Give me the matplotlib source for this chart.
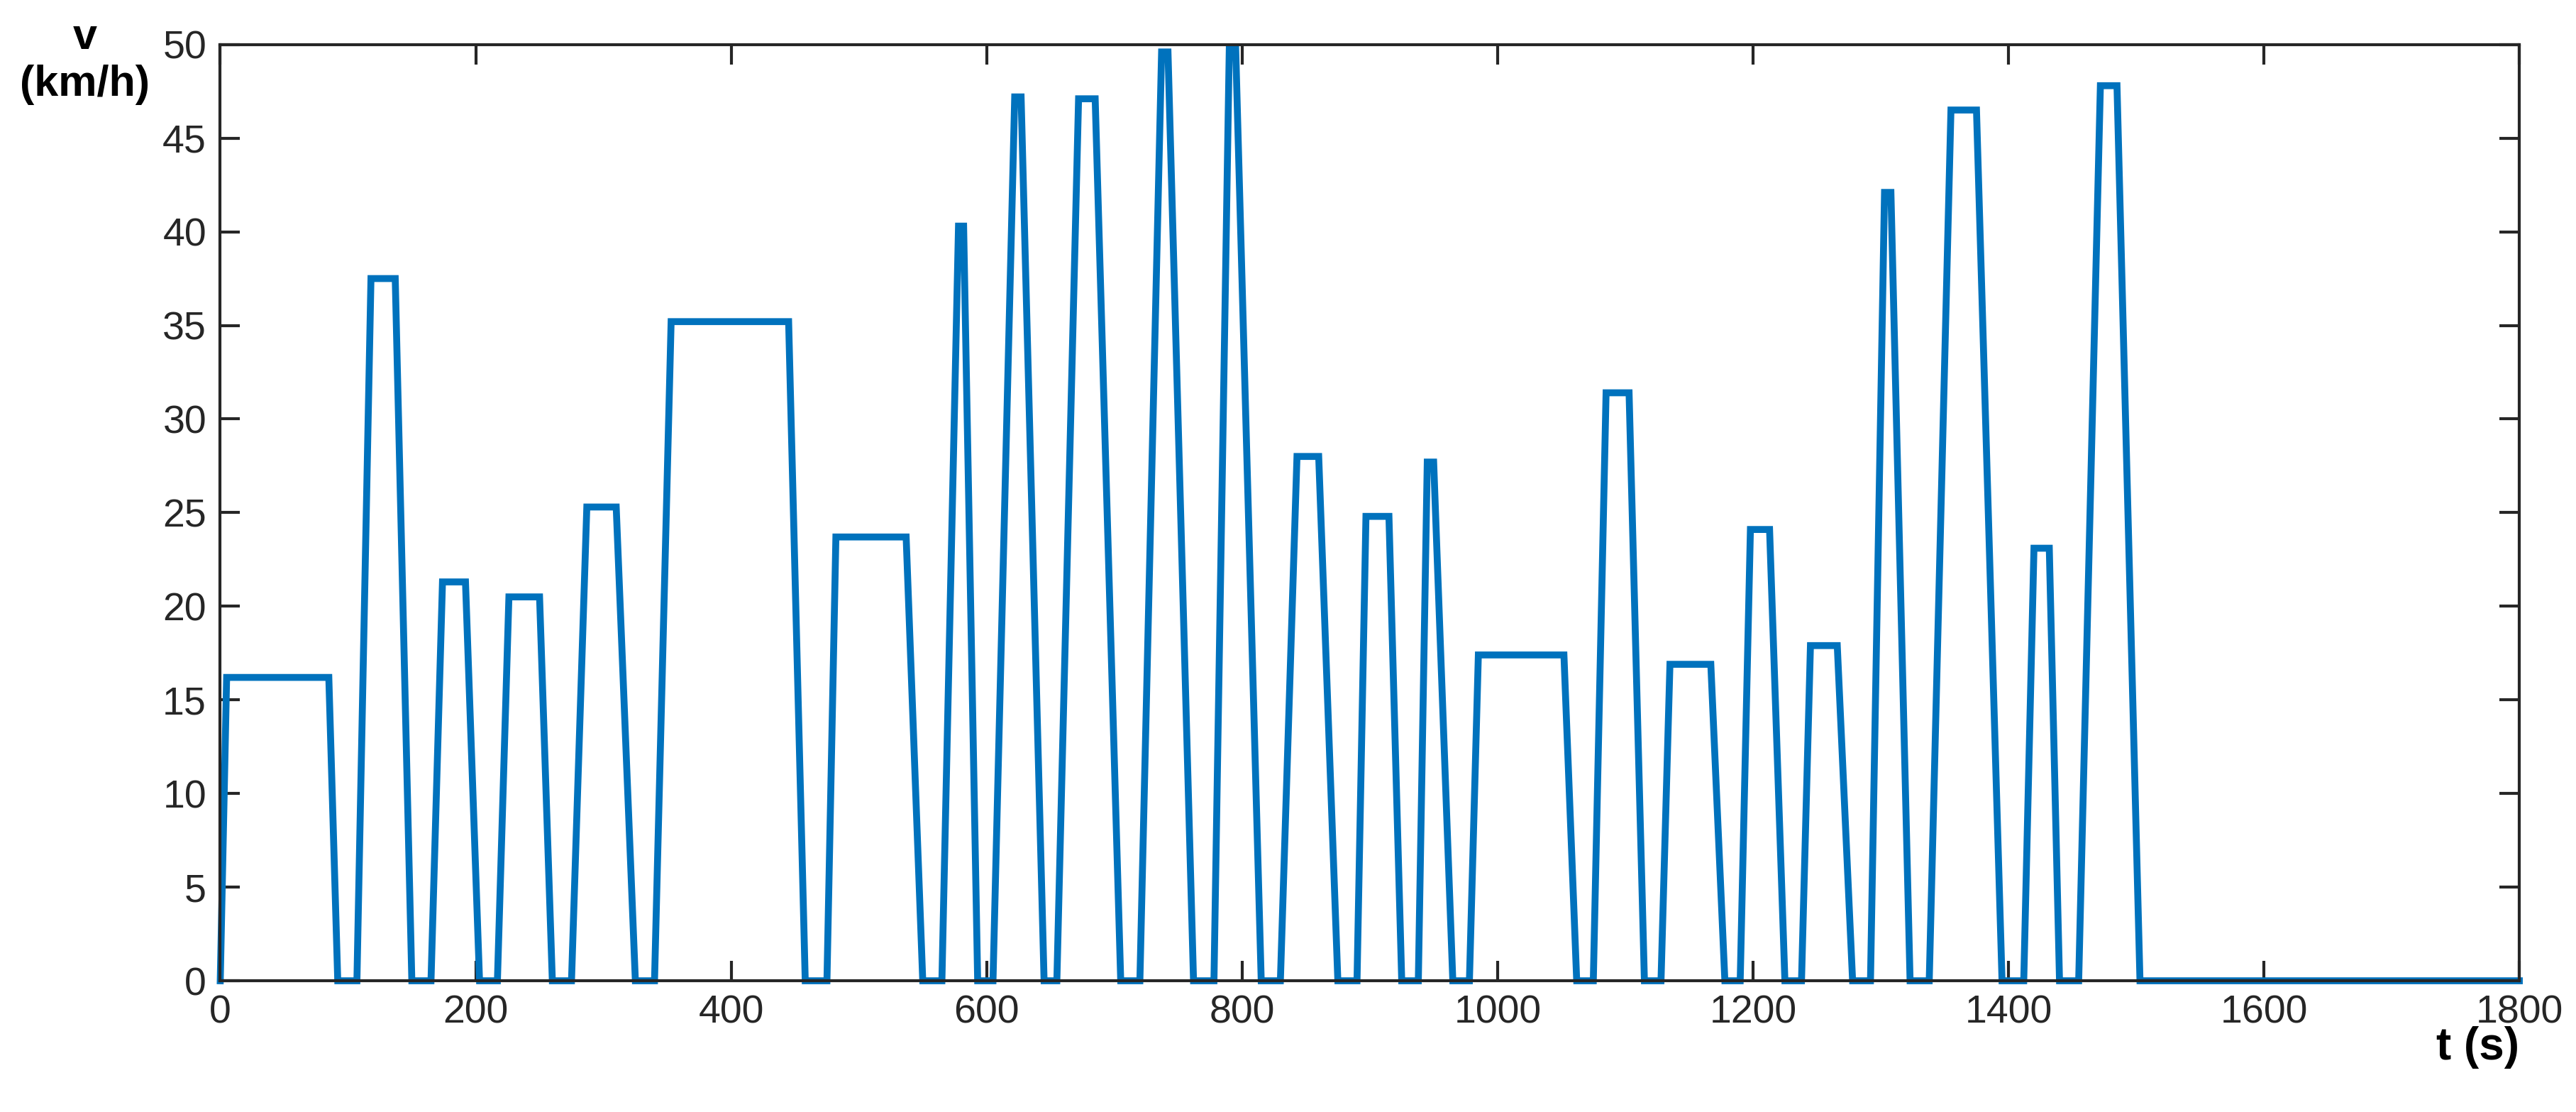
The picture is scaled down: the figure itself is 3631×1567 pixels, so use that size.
import matplotlib
matplotlib.use("Agg")
import matplotlib.pyplot as plt

plt.rcParams["font.family"] = ["Liberation Sans", "DejaVu Sans"]

# speed profile vertices
t_s = [0, 5, 85, 92, 107, 118, 137, 150, 165, 174, 192, 203, 217, 226, 250, 260,
       275, 287, 310, 325, 340, 353, 445, 458, 475, 482, 537, 550, 565, 578, 582, 593,
       605, 622, 627, 645, 655, 672, 685, 705, 720, 737, 742, 762, 778, 790, 795, 815,
       830, 843, 860, 875, 890, 897, 915, 925, 938, 945, 950, 965, 978, 985, 1052, 1062,
       1075, 1085, 1103, 1115, 1128, 1135, 1167, 1178, 1190, 1198, 1213, 1225, 1238, 1245,
       1266, 1278, 1292, 1303, 1308, 1323, 1338, 1355, 1375, 1395, 1412, 1420, 1432, 1440,
       1455, 1472, 1485, 1503, 1800]
v_kmh = [0, 16.2, 16.2, 0, 0, 37.5, 37.5, 0, 0, 21.3, 21.3, 0, 0, 20.5, 20.5, 0,
         0, 25.3, 25.3, 0, 0, 35.2, 35.2, 0, 0, 23.7, 23.7, 0, 0, 40.3, 40.3, 0,
         0, 47.2, 47.2, 0, 0, 47.1, 47.1, 0, 0, 49.6, 49.6, 0, 0, 49.8, 49.8, 0,
         0, 28.0, 28.0, 0, 0, 24.8, 24.8, 0, 0, 27.7, 27.7, 0, 0, 17.4, 17.4, 0,
         0, 31.4, 31.4, 0, 0, 16.9, 16.9, 0, 0, 24.1, 24.1, 0, 0, 17.9,
         17.9, 0, 0, 42.1, 42.1, 0, 0, 46.5, 46.5, 0, 0, 23.1, 23.1, 0,
         0, 47.8, 47.8, 0, 0]

fig = plt.figure(figsize=(36.31, 15.67), dpi=100)
ax = fig.add_axes([0.0855, 0.118, 0.8925, 0.842])
ax.plot(t_s, v_kmh, color="#0072BD", linewidth=7, clip_on=False, solid_joinstyle="miter")
ax.set_xlim(0, 1800)
ax.set_ylim(0, 50)
ax.set_xticks(range(0, 1801, 200))
ax.set_yticks(range(0, 51, 5))
ax.tick_params(direction="in", length=20, width=3, labelsize=40, top=True, right=True,
               pad=14, colors="#262626")
for s in ax.spines.values():
    s.set_linewidth(3)
    s.set_color("#262626")
fig.text(0.033, 0.945, "v\n(km/h)", ha="center", va="center", fontsize=44,
         fontweight="bold", linespacing=1.2)
fig.text(0.978, 0.058, "t (s)", ha="right", va="center", fontsize=46, fontweight="bold")
fig.savefig("out.png", dpi=100)
